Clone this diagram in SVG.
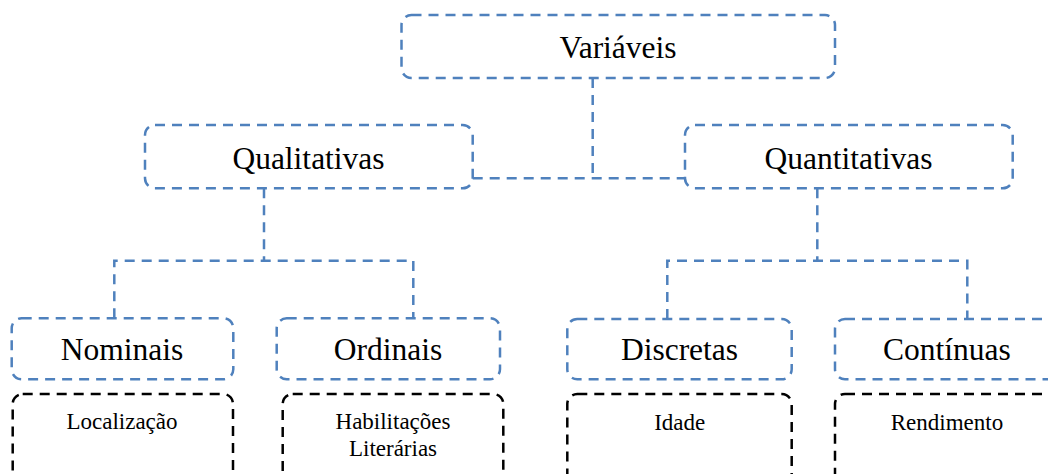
<svg xmlns="http://www.w3.org/2000/svg" width="1048" height="474" viewBox="0 0 1048 474">
<style>
.b{fill:none;stroke:#4f81bd;stroke-width:2.5;stroke-dasharray:10 7}
.k{fill:none;stroke:#000;stroke-width:2.5;stroke-dasharray:10 7}
.c{fill:none;stroke:#4f81bd;stroke-width:2.5;stroke-dasharray:10 7}
.t{font-size:31.5px;fill:#000;text-anchor:middle}
.s{font-size:23px;fill:#000;text-anchor:middle}
</style>
<rect width="1048" height="474" fill="#fff"/>
<g id="connectors">
<path class="c" d="M592.7 78 V178.3 M472.7 178.3 H685"/>
<path class="c" d="M264 188.3 V260.7 M114.3 318.3 V260.7 H413.3 V318.3"/>
<path class="c" d="M817.3 188.3 V260.7 M667.3 319 V260.7 H967.3 V319"/>
</g>
<g font-family="Liberation Serif, Times New Roman, serif">
<g id="variaveis"><rect class="b" x="401.5" y="15" width="433.5" height="63" rx="10"/><text class="t" x="618" y="58.3">Variáveis</text></g>
<g id="qualitativas"><rect class="b" x="145" y="125" width="327.7" height="63.3" rx="10"/><text class="t" x="308.5" y="169.3">Qualitativas</text></g>
<g id="quantitativas"><rect class="b" x="685" y="125" width="327.7" height="63.3" rx="10"/><text class="t" x="848.5" y="169.3">Quantitativas</text></g>
<g id="nominais"><rect class="b" x="11.7" y="318.3" width="221.6" height="61" rx="10"/><text class="t" x="122" y="360">Nominais</text></g>
<g id="ordinais"><rect class="b" x="276.7" y="318.3" width="223.3" height="61" rx="10"/><text class="t" x="388" y="360">Ordinais</text></g>
<g id="discretas"><rect class="b" x="567.3" y="319" width="224.4" height="60.3" rx="10"/><text class="t" x="679.5" y="359.5">Discretas</text></g>
<g id="continuas"><rect class="b" x="835" y="319" width="224" height="60.3" rx="10"/><text class="t" x="947" y="359.5">Contínuas</text></g>
<g id="localizacao"><rect class="k" x="12.7" y="394" width="220.3" height="110" rx="10"/><text class="s" x="122" y="429.3">Localização</text></g>
<g id="habilitacoes"><rect class="k" x="282.7" y="394" width="220.6" height="110" rx="10"/><text class="s" x="393" y="429.3">Habilitações</text><text class="s" x="393" y="456.3">Literárias</text></g>
<g id="idade"><rect class="k" x="567.3" y="394" width="224.4" height="110" rx="10"/><text class="s" x="679.7" y="430">Idade</text></g>
<g id="rendimento"><rect class="k" x="835" y="394" width="224" height="110" rx="10"/><text class="s" x="947" y="430">Rendimento</text></g>
</g>
</svg>
